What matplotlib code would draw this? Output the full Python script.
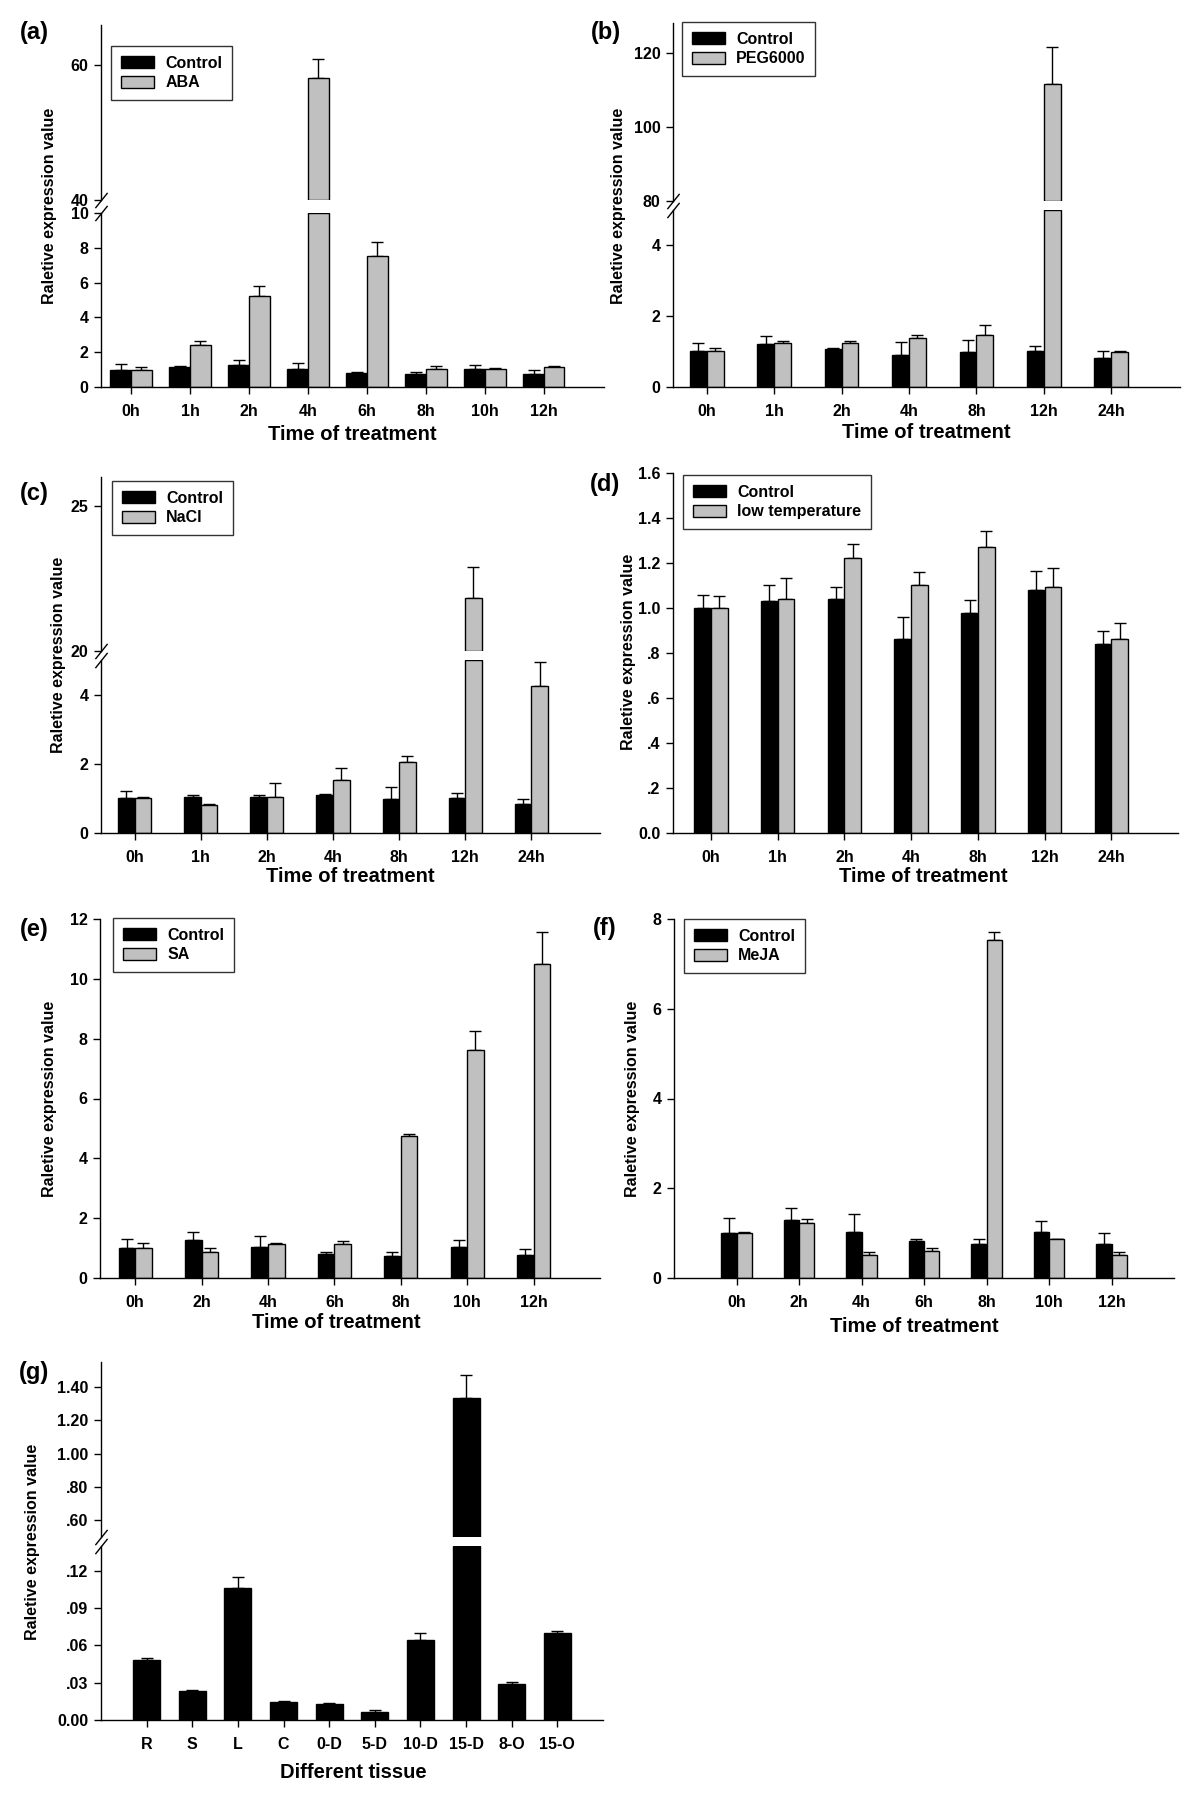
import matplotlib.pyplot as plt
import numpy as np

plt.rcParams['font.family'] = ['Liberation Sans', 'DejaVu Sans']
plt.rcParams['font.weight'] = 'bold'

W, H = 1200, 1811

# (a) ABA
a_times = ['0h', '1h', '2h', '4h', '6h', '8h', '10h', '12h']
a_ctrl = [1.00, 1.15, 1.29, 1.02, 0.81, 0.75, 1.02, 0.75]
a_ctrl_err = [0.31, 0.04, 0.25, 0.38, 0.07, 0.12, 0.23, 0.23]
a_trt = [1.00, 2.44, 5.21, 58.1, 7.54, 1.06, 1.04, 1.15]
a_trt_err = [0.15, 0.21, 0.58, 2.9, 0.77, 0.15, 0.06, 0.06]

# (b) PEG6000
b_times = ['0h', '1h', '2h', '4h', '8h', '12h', '24h']
b_ctrl = [1.01, 1.22, 1.06, 0.89, 1.00, 1.03, 0.82]
b_ctrl_err = [0.22, 0.23, 0.04, 0.38, 0.34, 0.12, 0.19]
b_trt = [1.01, 1.25, 1.23, 1.39, 1.46, 111.5, 0.99]
b_trt_err = [0.09, 0.06, 0.06, 0.07, 0.29, 10.1, 0.04]

# (c) NaCl
c_times = ['0h', '1h', '2h', '4h', '8h', '12h', '24h']
c_ctrl = [1.00, 1.03, 1.03, 1.09, 0.98, 1.01, 0.84]
c_ctrl_err = [0.20, 0.06, 0.06, 0.03, 0.35, 0.14, 0.15]
c_trt = [1.00, 0.80, 1.03, 1.54, 2.04, 21.84, 4.26]
c_trt_err = [0.05, 0.03, 0.41, 0.34, 0.19, 1.05, 0.67]

# (d) low temperature
d_times = ['0h', '1h', '2h', '4h', '8h', '12h', '24h']
d_ctrl = [1.00, 1.03, 1.04, 0.864, 0.978, 1.078, 0.841]
d_ctrl_err = [0.06, 0.07, 0.055, 0.096, 0.058, 0.085, 0.057]
d_trt = [1.00, 1.04, 1.222, 1.10, 1.27, 1.095, 0.862]
d_trt_err = [0.053, 0.093, 0.062, 0.061, 0.071, 0.081, 0.071]

# (e) SA
e_times = ['0h', '2h', '4h', '6h', '8h', '10h', '12h']
e_ctrl = [1.00, 1.28, 1.02, 0.81, 0.75, 1.02, 0.76]
e_ctrl_err = [0.32, 0.26, 0.39, 0.06, 0.12, 0.24, 0.22]
e_trt = [1.00, 0.87, 1.15, 1.12, 4.75, 7.62, 10.51]
e_trt_err = [0.18, 0.13, 0.03, 0.13, 0.07, 0.62, 1.06]

# (f) MeJA
f_times = ['0h', '2h', '4h', '6h', '8h', '10h', '12h']
f_ctrl = [1.01, 1.29, 1.02, 0.82, 0.75, 1.02, 0.76]
f_ctrl_err = [0.32, 0.26, 0.41, 0.06, 0.13, 0.24, 0.24]
f_trt = [1.01, 1.22, 0.52, 0.60, 7.53, 0.87, 0.51]
f_trt_err = [0.02, 0.10, 0.05, 0.06, 0.18, 0.0, 0.06]

# (g) tissues
g_tissues = ['R', 'S', 'L', 'C', '0-D', '5-D', '10-D', '15-D', '8-O', '15-O']
g_vals = [0.0483, 0.0237, 0.106, 0.0144, 0.0125, 0.0064, 0.064, 1.336, 0.029, 0.0704]
g_err = [0.0013, 0.0006, 0.0087, 0.0005, 0.0008, 0.0016, 0.0059, 0.134, 0.0014, 0.0016]

d_ticklabels = ['0.0', '.2', '.4', '.6', '.8', '1.0', '1.2', '1.4', '1.6']
g_low_ticklabels = ['0.00', '.03', '.06', '.09', '.12']
g_up_ticklabels = ['.60', '.80', '1.00', '1.20', '1.40']

GRAY = '#c0c0c0'
YLAB = 'Raletive expression value'
TICK_FS = 11.5

fig = plt.figure(figsize=(W / 100, H / 100), dpi=100)


def px_axes(x0, x1, ytop, ybot):
    return fig.add_axes([x0 / W, 1 - ybot / H, (x1 - x0) / W, (ybot - ytop) / H])


def style(ax, upper=False):
    for s in ['top', 'right']:
        ax.spines[s].set_visible(False)
    for s in ['left', 'bottom']:
        ax.spines[s].set_linewidth(1)
    ax.tick_params(axis='y', direction='out', length=5, width=1, labelsize=TICK_FS, pad=4)
    ax.tick_params(axis='x', direction='out', length=5, width=1, labelsize=TICK_FS, pad=7)
    if upper:
        ax.spines['bottom'].set_visible(False)
        ax.tick_params(axis='x', bottom=False, labelbottom=False)


def brk(ax, y):
    ax.plot([0], [y], transform=ax.transAxes, marker=[(-0.8, -1), (0.8, 1)],
            markersize=11, ls='none', color='k', mew=1, clip_on=False)


def lower_bars(ax, pos, vals, errs, w, color, top, label=None):
    vals = np.asarray(vals, float)
    errs = np.asarray(errs, float)
    b = ax.bar(pos, np.minimum(vals, top), w, color=color, edgecolor='k',
               linewidth=1, label=label, zorder=2)
    ax.errorbar(pos, vals, yerr=[np.zeros_like(errs), errs], fmt='none',
                ecolor='k', elinewidth=1, capsize=4, capthick=1, zorder=1)
    return b


def upper_bars(ax, pos, vals, errs, w, color, lo):
    vals = np.asarray(vals, float)
    errs = np.asarray(errs, float)
    pos = np.asarray(pos, float)
    m = vals > lo
    ax.bar(pos[m], vals[m] - lo, w, bottom=lo, color=color, edgecolor='k',
           linewidth=1, zorder=2)
    ax.errorbar(pos[m], vals[m], yerr=[np.zeros(m.sum()), errs[m]], fmt='none',
                ecolor='k', elinewidth=1, capsize=4, capthick=1, zorder=1)


def legend(ax, handles, labels, x, y):
    leg = ax.legend(handles, labels, loc='upper left', bbox_to_anchor=(x / W, 1 - y / H),
                    bbox_transform=fig.transFigure, frameon=True, fancybox=False,
                    edgecolor='k', fontsize=11.5, handlelength=2.1, handleheight=0.75,
                    borderpad=0.6, labelspacing=0.3, handletextpad=0.7, borderaxespad=0)
    leg.get_frame().set_linewidth(1)


def ylab(x, y):
    fig.text(x / W, 1 - y / H, YLAB, rotation=90, ha='center', va='center', fontsize=11.5)


def xlab(x, y, text='Time of treatment'):
    fig.text(x / W, 1 - y / H, text, ha='center', va='center', fontsize=14.5)


def plabel(x, y, text):
    fig.text(x / W, 1 - y / H, text, ha='center', va='center', fontsize=17)


def broken_panel(times, ctrl, cerr, trt, terr, w, box, xlim, low_lim, up_lim,
                 low_ticks, up_ticks, trt_name, leg_xy):
    x0, x1, ut, ub, lt, lb = box
    x = np.arange(len(times))
    axu = px_axes(x0, x1, ut, ub)
    axl = px_axes(x0, x1, lt, lb)
    h1 = lower_bars(axl, x - w / 2, ctrl, cerr, w, 'k', low_lim[1], 'Control')
    h2 = lower_bars(axl, x + w / 2, trt, terr, w, GRAY, low_lim[1], trt_name)
    upper_bars(axu, x - w / 2, ctrl, cerr, w, 'k', up_lim[0])
    upper_bars(axu, x + w / 2, trt, terr, w, GRAY, up_lim[0])
    for ax in (axu, axl):
        ax.set_xlim(*xlim)
    axl.set_ylim(*low_lim)
    axu.set_ylim(*up_lim)
    axl.set_yticks(low_ticks)
    axu.set_yticks(up_ticks)
    axl.set_xticks(x)
    axl.set_xticklabels(times)
    style(axl)
    style(axu, upper=True)
    brk(axl, 1)
    brk(axu, 0)
    legend(axu, [h1, h2], ['Control', trt_name], *leg_xy)


def simple_panel(times, ctrl, cerr, trt, terr, w, box, xlim, ylim, ticks, trt_name, leg_xy):
    x0, x1, t, b = box
    x = np.arange(len(times))
    ax = px_axes(x0, x1, t, b)
    h1 = lower_bars(ax, x - w / 2, ctrl, cerr, w, 'k', ylim[1], 'Control')
    h2 = lower_bars(ax, x + w / 2, trt, terr, w, GRAY, ylim[1], trt_name)
    ax.set_xlim(*xlim)
    ax.set_ylim(*ylim)
    ax.set_yticks(ticks)
    ax.set_xticks(x)
    ax.set_xticklabels(times)
    style(ax)
    legend(ax, [h1, h2], ['Control', trt_name], *leg_xy)
    return ax


# (a)
broken_panel(a_times, a_ctrl, a_ctrl_err, a_trt, a_trt_err, 0.35,
             (101, 604, 25, 200, 213, 387), (-0.51, 8.02), (0, 10), (40, 66),
             [0, 2, 4, 6, 8, 10], [40, 60], 'ABA', (111, 46))
ylab(50, 206)
xlab(352, 435)
plabel(34, 33, '(a)')

# (b)
broken_panel(b_times, b_ctrl, b_ctrl_err, b_trt, b_trt_err, 0.25,
             (673, 1180, 23, 201, 210, 387), (-0.5, 7.02), (0, 5), (80, 128),
             [0, 2, 4], [80, 100, 120], 'PEG6000', (682, 22))
ylab(619, 206)
xlab(926, 432)
plabel(606, 33, '(b)')

# (c)
broken_panel(c_times, c_ctrl, c_ctrl_err, c_trt, c_trt_err, 0.25,
             (101, 600, 477, 651, 660, 833), (-0.51, 7.04), (0, 5), (20, 26),
             [0, 2, 4], [20, 25], 'NaCl', (112, 481))
ylab(58, 655)
xlab(350, 877)
plabel(34, 493, '(c)')

# (d)
axd = simple_panel(d_times, d_ctrl, d_ctrl_err, d_trt, d_trt_err, 0.25,
                   (673, 1178, 473, 833), (-0.57, 7.0), (0, 1.6),
                   np.arange(0, 1.61, 0.2), 'low temperature', (683, 475))
axd.set_yticklabels(d_ticklabels)
ylab(629, 652)
xlab(923, 877)
plabel(605, 485, '(d)')

# (e)
simple_panel(e_times, e_ctrl, e_ctrl_err, e_trt, e_trt_err, 0.25,
             (100, 600, 919, 1278), (-0.53, 7.0), (0, 12),
             [0, 2, 4, 6, 8, 10, 12], 'SA', (113, 918))
ylab(50, 1099)
xlab(336, 1323)
plabel(34, 930, '(e)')

# (f)
simple_panel(f_times, f_ctrl, f_ctrl_err, f_trt, f_trt_err, 0.245,
             (674, 1174, 919, 1278), (-1.0, 7.0), (0, 8),
             [0, 2, 4, 6, 8], 'MeJA', (684, 919))
ylab(633, 1099)
xlab(914, 1327)
plabel(605, 929, '(f)')

# (g)
xg = np.arange(len(g_tissues))
axgu = px_axes(101, 603, 1362, 1537)
axgl = px_axes(101, 603, 1546, 1720)
lower_bars(axgl, xg, g_vals, g_err, 0.59, 'k', 0.14)
upper_bars(axgu, xg, g_vals, g_err, 0.59, 'k', 0.5)
for ax in (axgu, axgl):
    ax.set_xlim(-1, 10)
axgl.set_ylim(0, 0.14)
axgu.set_ylim(0.5, 1.55)
axgl.set_yticks([0, 0.03, 0.06, 0.09, 0.12])
axgl.set_yticklabels(g_low_ticklabels)
axgu.set_yticks([0.6, 0.8, 1.0, 1.2, 1.4])
axgu.set_yticklabels(g_up_ticklabels)
axgl.set_xticks(xg)
axgl.set_xticklabels(g_tissues)
style(axgl)
style(axgu, upper=True)
brk(axgl, 1)
brk(axgu, 0)
ylab(33, 1542)
xlab(353, 1772, 'Different tissue')
plabel(34, 1373, '(g)')

fig.savefig('out.png', dpi=100)
